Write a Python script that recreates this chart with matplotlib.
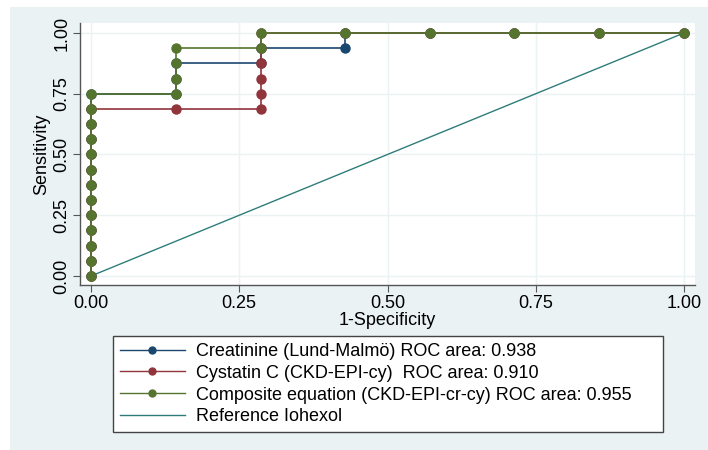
import matplotlib
matplotlib.use("Agg")
import matplotlib.pyplot as plt
from matplotlib.patches import Rectangle

plt.rcParams["font.family"] = ["Liberation Sans", "DejaVu Sans"]

# ROC points (1-specificity, sensitivity)
fpr_cr = [0, 0, 0, 0, 0, 0, 0, 0, 0, 0, 0, 0, 0,
          0.143, 0.143, 0.143, 0.286, 0.286, 0.429, 0.429,
          0.571, 0.714, 0.857, 1.0]
sens_cr = [0, 0.0625, 0.125, 0.1875, 0.25, 0.3125, 0.375, 0.4375, 0.5, 0.5625, 0.625, 0.6875, 0.75,
           0.75, 0.8125, 0.875, 0.875, 0.9375, 0.9375, 1.0,
           1.0, 1.0, 1.0, 1.0]

fpr_cy = [0, 0, 0, 0, 0, 0, 0, 0, 0, 0, 0, 0,
          0.143, 0.286, 0.286, 0.286, 0.286, 0.286, 0.286,
          0.429, 0.571, 0.714, 0.857, 1.0]
sens_cy = [0, 0.0625, 0.125, 0.1875, 0.25, 0.3125, 0.375, 0.4375, 0.5, 0.5625, 0.625, 0.6875,
           0.6875, 0.6875, 0.75, 0.8125, 0.875, 0.9375, 1.0,
           1.0, 1.0, 1.0, 1.0, 1.0]

fpr_comp = [0, 0, 0, 0, 0, 0, 0, 0, 0, 0, 0, 0, 0,
            0.143, 0.143, 0.143, 0.143, 0.286, 0.286,
            0.429, 0.571, 0.714, 0.857, 1.0]
sens_comp = [0, 0.0625, 0.125, 0.1875, 0.25, 0.3125, 0.375, 0.4375, 0.5, 0.5625, 0.625, 0.6875, 0.75,
             0.75, 0.8125, 0.875, 0.9375, 0.9375, 1.0,
             1.0, 1.0, 1.0, 1.0, 1.0]

ref_x = [0, 1]
ref_y = [0, 1]

labels = ["Creatinine (Lund-Malmö) ROC area: 0.938",
          "Cystatin C (CKD-EPI-cy)  ROC area: 0.910",
          "Composite equation (CKD-EPI-cr-cy) ROC area: 0.955",
          "Reference Iohexol"]
colors = ["#1A476F", "#90353B", "#55752F", "#2E7D7A"]
ticks = [0, 0.25, 0.5, 0.75, 1.0]
tick_labels = ["0.00", "0.25", "0.50", "0.75", "1.00"]

W, H = 708, 450
FS = 13
fig = plt.figure(figsize=(W / 100, H / 100), dpi=100)
fig.patch.set_facecolor("white")
bg = "#EAF2F3"
fig.patches.append(Rectangle((10 / W, 0), 1 - 10 / W, 1 - 7 / H,
                             transform=fig.transFigure, facecolor=bg,
                             edgecolor="none", zorder=-10))

ax = fig.add_axes([80 / W, 1 - 285 / H, 615 / W, 262 / H])
ax.set_facecolor("white")

series = [(fpr_cr, sens_cr), (fpr_cy, sens_cy), (fpr_comp, sens_comp)]
for (x, y), lab, c in zip(series, labels[:3], colors[:3]):
    ax.plot(x, y, color=c, lw=1.2, marker="o", ms=6.5, mfc=c, mec=c,
            label=lab, zorder=3)
ax.plot(ref_x, ref_y, color=colors[3], lw=1.0, label=labels[3], zorder=2)

ax.set_xlim(-0.0185, 1.0185)
ax.set_ylim(-0.037, 1.041)
ax.set_xticks(ticks)
ax.set_xticklabels(tick_labels)
ax.set_yticks(ticks)
ax.set_yticklabels(tick_labels, rotation=90, va="center")
ax.grid(True, color=bg, lw=1.0, zorder=0)
ax.set_axisbelow(True)
for s in ["top", "right"]:
    ax.spines[s].set_visible(False)
for s in ["left", "bottom"]:
    ax.spines[s].set_color("#555555")
    ax.spines[s].set_linewidth(1.0)
ax.tick_params(direction="out", length=5, width=0.8, color="#555555",
               labelsize=FS, pad=2)
ax.set_xlabel("1-Specificity", fontsize=FS, labelpad=0)
ax.set_ylabel("Sensitivity", fontsize=FS, labelpad=2)

leg = fig.legend(loc="upper left",
                 bbox_to_anchor=(113 / W, 1 - 429 / H, 550 / W, 93 / H),
                 mode="expand", fontsize=FS, frameon=True, fancybox=False,
                 edgecolor="#444444", framealpha=1, handlelength=3.6,
                 handletextpad=0.6, labelspacing=0.27, borderpad=0.38,
                 borderaxespad=0)
leg.get_frame().set_linewidth(1.0)
for h in leg.legend_handles:
    h.set_markersize(5)
    h.set_linewidth(1.0)

fig.savefig("out.png", dpi=100)
